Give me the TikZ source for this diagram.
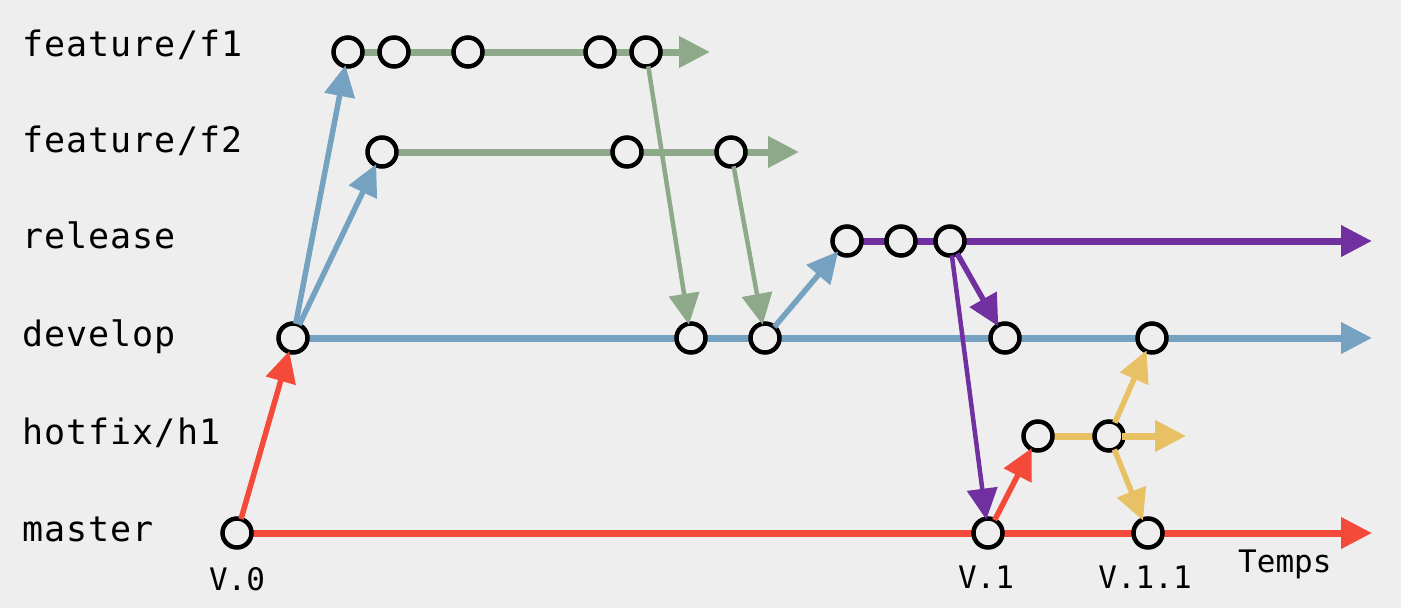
\documentclass[tikz,border=0pt]{standalone}
\usepackage{fontspec}
\setmonofont{DejaVu Sans Mono}
\newfontfamily\lblfont[LetterSpace=3]{DejaVu Sans Mono}
\usetikzlibrary{arrows.meta}
\definecolor{bgc}{HTML}{EEEEEE}
\definecolor{cgreen}{HTML}{8DA98A}
\definecolor{cblue}{HTML}{74A2C0}
\definecolor{cpurple}{HTML}{7030A0}
\definecolor{cred}{HTML}{F44A3A}
\definecolor{cyellow}{HTML}{E8C165}
\tikzset{
  commit/.style={circle,draw=black,line width=4.5pt,fill=bgc,minimum size=29pt,inner sep=0pt,outer sep=0pt},
  branchlbl/.style={anchor=base west,inner sep=0pt,font=\lblfont\fontsize{35}{40}\selectfont},
  verlbl/.style={anchor=base,inner sep=0pt,font=\ttfamily\fontsize{31}{36}\selectfont},
  tip/.style={-{Triangle[length=31pt,width=30pt]}},
  mainline/.style={line width=7pt},
  linkline/.style={line width=5.5pt,tip,shorten >=-1pt},
}
\begin{document}
\begin{tikzpicture}[x=1pt,y=-1pt]
\fill[bgc] (0,0) rectangle (1401,608);
\useasboundingbox (0,0) rectangle (1401,608);
% labels
\node[branchlbl] (lf1) at (22,56) {feature/f1};
\node[branchlbl] (lf2) at (22,152) {feature/f2};
\node[branchlbl] (lrel) at (22,248) {release};
\node[branchlbl] (ldev) at (22,346) {develop};
\node[branchlbl] (lhot) at (22,444) {hotfix/h1};
\node[branchlbl] (lmas) at (22,541) {master};
% end coordinates
\coordinate (f1end) at (710,52);
\coordinate (f2end) at (799,152);
\coordinate (relend) at (1372,241);
\coordinate (devend) at (1372,338);
\coordinate (hotend) at (1185,436);
\coordinate (masend) at (1372,533);
\coordinate (f1start) at (348,52);
\coordinate (f2start) at (382,152);
\coordinate (relstart) at (847,241);
\coordinate (devstart) at (293,338);
\coordinate (hotstart) at (1038,436);
\coordinate (hotmid) at (1109,436);
\coordinate (masstart) at (237,533);
% main lines
\draw[mainline,cgreen,tip] (f1start) -- (f1end);
\draw[mainline,cgreen,tip] (f2start) -- (f2end);
\draw[mainline,cpurple,tip] (relstart) -- (relend);
\draw[mainline,cblue,tip] (devstart) -- (devend);
\draw[mainline,cyellow] (hotstart) -- (hotmid);
\draw[mainline,cred,tip] (masstart) -- (masend);
% commits
\node[commit] (f1a) at (348,52) {};
\node[commit] (f1b) at (394,52) {};
\node[commit] (f1c) at (468,52) {};
\node[commit] (f1d) at (600,52) {};
\node[commit] (f1e) at (646,52) {};
\node[commit] (f2a) at (382,152) {};
\node[commit] (f2b) at (627,152) {};
\node[commit] (f2c) at (731,152) {};
\node[commit] (ra) at (847,241) {};
\node[commit] (rb) at (901,241) {};
\node[commit] (rc) at (950,241) {};
\node[commit] (da) at (293,338) {};
\node[commit] (db) at (691,338) {};
\node[commit] (dc) at (765,338) {};
\node[commit] (dd) at (1005,338) {};
\node[commit] (de) at (1152,338) {};
\node[commit] (ha) at (1038,436) {};
\node[commit] (hb) at (1109,436) {};
\node[commit] (ma) at (237,533) {};
\node[commit] (mb) at (988,533) {};
\node[commit] (mc) at (1148,533) {};
% links
\draw[linkline,cred] (ma) -- (da);
\draw[linkline,cblue] (da) -- (f1a);
\draw[linkline,cblue] (da) -- (f2a);
\draw[linkline,cgreen,line width=4.5pt] (f1e) -- (db);
\draw[linkline,cgreen,line width=4.5pt] (f2c) -- (dc);
\draw[linkline,cblue] (dc) -- (ra);
\draw[linkline,cpurple] (rc) -- (dd);
\draw[linkline,cpurple,line width=4.5pt] (rc) -- (mb);
\draw[linkline,cred] (mb) -- (ha);
\draw[linkline,cyellow] (hb) -- (de);
\draw[linkline,cyellow] (hb) -- (mc);
\draw[linkline,cyellow,line width=7pt,shorten <=-2pt] (hb.east) -- (hotend);
% version labels
\node[verlbl] (v0) at (237,590) {V.0};
\node[verlbl] (v1) at (986,588) {V.1};
\node[verlbl] (v11) at (1145,588) {V.1.1};
\node[verlbl,anchor=base west] (temps) at (1238,572) {Temps};
\end{tikzpicture}
\end{document}
